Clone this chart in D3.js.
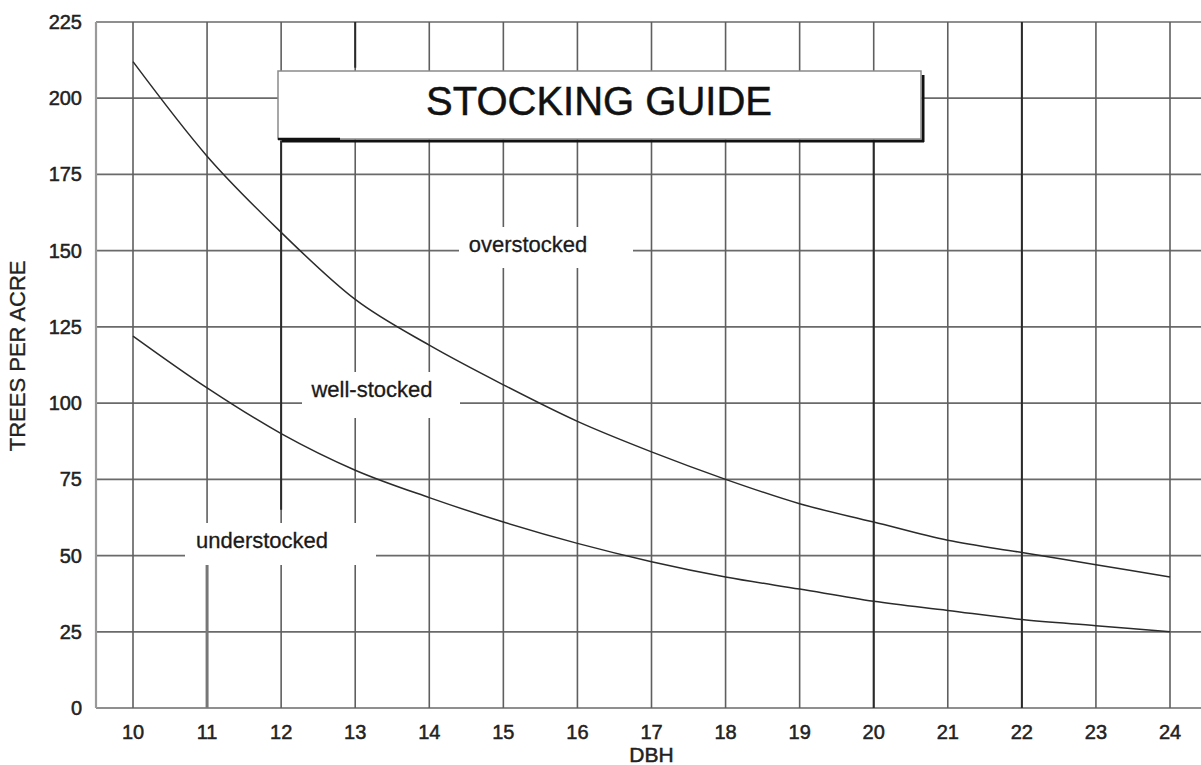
<!DOCTYPE html>
<html>
<head>
<meta charset="utf-8">
<script src="https://cdn.jsdelivr.net/npm/d3@7/dist/d3.min.js"></script>
<style>
  html, body { margin: 0; padding: 0; background: #fff; }
  svg { display: block; }
  text { font-family: "Liberation Sans", Arial, Helvetica, sans-serif; }
</style>
</head>
<body>
<svg id="chart" width="1201" height="765"></svg>
<script>
// ---- data ----
const dbh = [10, 11, 12, 13, 14, 15, 16, 17, 18, 19, 20, 21, 22, 23, 24];
const overstockedLimit = [212, 181, 156, 134, 119, 106, 94, 84, 75, 67, 61, 55, 51, 47, 43];
const understockedLimit = [122, 105, 90, 78, 69, 61, 54, 48, 43, 39, 35, 32, 29, 27, 25];
const yTicks = [0, 25, 50, 75, 100, 125, 150, 175, 200, 225];
const xTicks = [10, 11, 12, 13, 14, 15, 16, 17, 18, 19, 20, 21, 22, 23, 24];
const titleText = "STOCKING GUIDE";
const xTitle = "DBH";
const yTitle = "TREES PER ACRE";
const zoneLabels = ["overstocked", "well-stocked", "understocked"];

// ---- layout ----
const W = 1201, H = 765;
const svg = d3.select("#chart");
const x = d3.scaleLinear().domain([10, 24]).range([133, 1170]);
const y = d3.scaleLinear().domain([0, 225]).range([708, 22]);
const xMin = x.invert(96), xMax = x.invert(W + 5);

const g = svg.append("g");

// horizontal gridlines
g.selectAll("line.hgrid").data(yTicks).join("line")
  .attr("class", "hgrid")
  .attr("x1", x(xMin)).attr("x2", x(xMax))
  .attr("y1", d => y(d)).attr("y2", d => y(d))
  .attr("stroke", "#6a6a6a").attr("stroke-width", 1.7);

// vertical gridlines
g.selectAll("line.vgrid").data(xTicks).join("line")
  .attr("class", "vgrid")
  .attr("x1", d => x(d)).attr("x2", d => x(d))
  .attr("y1", y(225)).attr("y2", y(0))
  .attr("stroke", "#5f5f5f").attr("stroke-width", 1.6);

// darker printed segments of some vertical lines (scan emphasis)
const darkSegs = [
  {v: 12, a: 65, b: 186}, {v: 13, a: 210, b: 225}, {v: 20, a: 0, b: 186}, {v: 22, a: 0, b: 225}
];
g.selectAll("line.dark").data(darkSegs).join("line")
  .attr("x1", d => x(d.v)).attr("x2", d => x(d.v))
  .attr("y1", d => y(d.b)).attr("y2", d => y(d.a))
  .attr("stroke", "#2a2a2a").attr("stroke-width", 2);
g.append("line")
  .attr("x1", x(11)).attr("x2", x(11)).attr("y1", y(47)).attr("y2", y(0))
  .attr("stroke", "#777").attr("stroke-width", 3);

// left border
g.append("line")
  .attr("x1", x(xMin)).attr("x2", x(xMin)).attr("y1", y(225)).attr("y2", y(0))
  .attr("stroke", "#9a9a9a").attr("stroke-width", 2.2);

// zone labels with white backgrounds
const labelPos = [
  {t: zoneLabels[0], cx: 528, base: 252, r: [459, 227, 633, 268]},
  {t: zoneLabels[1], cx: 372, base: 397, r: [302, 372, 460, 418]},
  {t: zoneLabels[2], cx: 262, base: 548, r: [185, 523, 376, 565]}
];
g.selectAll("rect.lbg").data(labelPos).join("rect")
  .attr("x", d => d.r[0]).attr("y", d => d.r[1])
  .attr("width", d => d.r[2] - d.r[0]).attr("height", d => d.r[3] - d.r[1])
  .attr("fill", "#fff");

// curves
const line = d3.line().x(d => x(d[0])).y(d => y(d[1])).curve(d3.curveMonotoneX);
[overstockedLimit, understockedLimit].forEach(s => {
  g.append("path")
    .datum(dbh.map((d, i) => [d, s[i]]))
    .attr("d", line)
    .attr("fill", "none")
    .attr("stroke", "#2b2b2b")
    .attr("stroke-width", 1.5);
});

g.selectAll("text.zone").data(labelPos).join("text")
  .attr("x", d => d.cx).attr("y", d => d.base)
  .attr("text-anchor", "middle")
  .attr("font-size", 22)
  .attr("fill", "#1a1a1a")
  .attr("stroke", "#1a1a1a").attr("stroke-width", 0.3)
  .text(d => d.t);

// title box
const tb = {x0: 278, y0: 71, x1: 921, y1: 139};
g.append("line").attr("x1", tb.x0 + 4).attr("x2", tb.x1 + 3).attr("y1", tb.y1 + 2).attr("y2", tb.y1 + 2)
  .attr("stroke", "#111").attr("stroke-width", 3);
g.append("line").attr("x1", tb.x1 + 2).attr("x2", tb.x1 + 2).attr("y1", tb.y0 + 4).attr("y2", tb.y1 + 3)
  .attr("stroke", "#111").attr("stroke-width", 3);
g.append("rect")
  .attr("x", tb.x0).attr("y", tb.y0).attr("width", tb.x1 - tb.x0).attr("height", tb.y1 - tb.y0)
  .attr("fill", "#fff").attr("stroke", "#8a8a8a").attr("stroke-width", 1.5);
g.append("line").attr("x1", tb.x0).attr("x2", tb.x0 + 62).attr("y1", tb.y1).attr("y2", tb.y1)
  .attr("stroke", "#111").attr("stroke-width", 2.5);
g.append("text")
  .attr("x", 599).attr("y", 115)
  .attr("text-anchor", "middle")
  .attr("font-size", 40)
  .attr("fill", "#111")
  .attr("stroke", "#111").attr("stroke-width", 0.5)
  .text(titleText);

// axes tick labels
g.selectAll("text.ytick").data(yTicks).join("text")
  .attr("x", 82).attr("y", d => y(d) + 7)
  .attr("text-anchor", "end")
  .attr("font-size", 20)
  .attr("fill", "#222")
  .attr("stroke", "#222").attr("stroke-width", 0.5)
  .text(d => d);

g.selectAll("text.xtick").data(xTicks).join("text")
  .attr("x", d => x(d)).attr("y", 739)
  .attr("text-anchor", "middle")
  .attr("font-size", 20)
  .attr("fill", "#222")
  .attr("stroke", "#222").attr("stroke-width", 0.5)
  .text(d => d);

g.append("text")
  .attr("x", x(17)).attr("y", 762)
  .attr("text-anchor", "middle")
  .attr("font-size", 21)
  .attr("fill", "#222")
  .attr("stroke", "#222").attr("stroke-width", 0.5)
  .text(xTitle);

g.append("text")
  .attr("transform", `translate(25, ${y(115.5)}) rotate(-90)`)
  .attr("text-anchor", "middle")
  .attr("font-size", 22)
  .attr("fill", "#222")
  .attr("stroke", "#222").attr("stroke-width", 0.3)
  .text(yTitle);
</script>
</body>
</html>
